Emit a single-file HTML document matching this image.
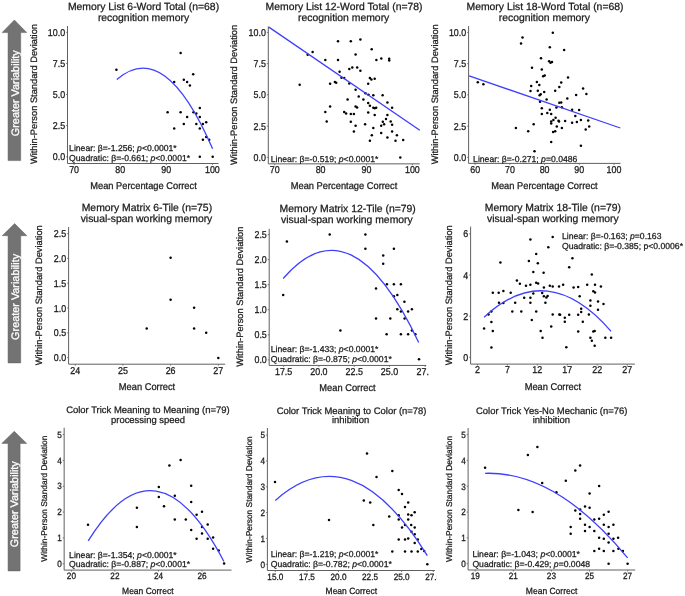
<!DOCTYPE html>
<html><head><meta charset="utf-8"><style>
html,body{margin:0;padding:0;background:#fff;}
body{width:685px;height:596px;overflow:hidden;}
svg{display:block;font-family:"Liberation Sans", sans-serif;will-change:transform;text-rendering:geometricPrecision;filter:blur(0.3px);}
text{stroke:#1a1a1a;stroke-width:0.25;}
text.w{stroke:#fff;stroke-width:0.3px;}
</style></head><body>
<svg width="685" height="596" viewBox="0 0 685 596">
<defs><clipPath id="c5"><rect x="225" y="360" width="204.1" height="40"/></clipPath><clipPath id="c8"><rect x="225" y="565" width="211.9" height="40"/></clipPath></defs>
<path d="M14.4,20.0 L26.7,32.6 L20.7,32.6 L20.7,160.6 L8.05,160.6 L8.05,32.6 L2.1,32.6 Z" fill="#737373" stroke="#5e5e5e" stroke-width="0.5" stroke-linejoin="miter"/>
<text transform="translate(18.5,93.20) rotate(-90)" class="w" font-size="10.85" text-anchor="middle" fill="#fff" font-weight="normal">Greater Variability</text>
<path d="M14.6,223.6 L26.9,235.7 L20.7,235.7 L20.7,362.9 L8.05,362.9 L8.05,235.7 L2.25,235.7 Z" fill="#737373" stroke="#5e5e5e" stroke-width="0.5" stroke-linejoin="miter"/>
<text transform="translate(18.5,296.90) rotate(-90)" class="w" font-size="10.85" text-anchor="middle" fill="#fff" font-weight="normal">Greater Variability</text>
<path d="M14.25,431.3 L26.7,443.4 L20.1,443.4 L20.1,570.9 L8.05,570.9 L8.05,443.4 L1.8,443.4 Z" fill="#737373" stroke="#5e5e5e" stroke-width="0.5" stroke-linejoin="miter"/>
<text transform="translate(18.1,504.20) rotate(-90)" class="w" font-size="10.85" text-anchor="middle" fill="#fff" font-weight="normal">Greater Variability</text>
<text x="143.50" y="9.70" font-size="10.4" text-anchor="middle" fill="#1a1a1a" >Memory List 6-Word Total (n=68)</text>
<text x="143.50" y="20.50" font-size="10.4" text-anchor="middle" fill="#1a1a1a" >recognition memory</text>
<text transform="translate(36.82,94.05) rotate(-90)" font-size="9.3" text-anchor="middle" fill="#1a1a1a">Within-Person Standard Deviation</text>
<text transform="translate(143.50,188.90) scale(1,1.06)" font-size="9.3" text-anchor="middle" fill="#1a1a1a" >Mean Percentage Correct</text>
<line x1="66.00" y1="32.30" x2="67.50" y2="32.30" stroke="#606060" stroke-width="0.8"/>
<text transform="translate(65.10,35.84) scale(1,1.12)" font-size="8.9" text-anchor="end" fill="#1a1a1a" >10.0</text>
<line x1="66.00" y1="63.42" x2="67.50" y2="63.42" stroke="#606060" stroke-width="0.8"/>
<text transform="translate(65.10,66.96) scale(1,1.12)" font-size="8.9" text-anchor="end" fill="#1a1a1a" >7.5</text>
<line x1="66.00" y1="94.55" x2="67.50" y2="94.55" stroke="#606060" stroke-width="0.8"/>
<text transform="translate(65.10,98.09) scale(1,1.12)" font-size="8.9" text-anchor="end" fill="#1a1a1a" >5.0</text>
<line x1="66.00" y1="125.68" x2="67.50" y2="125.68" stroke="#606060" stroke-width="0.8"/>
<text transform="translate(65.10,129.21) scale(1,1.12)" font-size="8.9" text-anchor="end" fill="#1a1a1a" >2.5</text>
<line x1="66.00" y1="156.80" x2="67.50" y2="156.80" stroke="#606060" stroke-width="0.8"/>
<text transform="translate(65.10,160.34) scale(1,1.12)" font-size="8.9" text-anchor="end" fill="#1a1a1a" >0.0</text>
<line x1="74.10" y1="163.50" x2="74.10" y2="165.00" stroke="#606060" stroke-width="0.8"/>
<text transform="translate(74.10,172.82) scale(1,1.12)" font-size="8.9" text-anchor="middle" fill="#1a1a1a" >70</text>
<line x1="120.20" y1="163.50" x2="120.20" y2="165.00" stroke="#606060" stroke-width="0.8"/>
<text transform="translate(120.20,172.82) scale(1,1.12)" font-size="8.9" text-anchor="middle" fill="#1a1a1a" >80</text>
<line x1="166.30" y1="163.50" x2="166.30" y2="165.00" stroke="#606060" stroke-width="0.8"/>
<text transform="translate(166.30,172.82) scale(1,1.12)" font-size="8.9" text-anchor="middle" fill="#1a1a1a" >90</text>
<line x1="212.40" y1="163.50" x2="212.40" y2="165.00" stroke="#606060" stroke-width="0.8"/>
<text transform="translate(212.40,172.82) scale(1,1.12)" font-size="8.9" text-anchor="middle" fill="#1a1a1a" >100</text>
<path d="M67.50,26.00 L67.50,163.50 L218.50,163.50" fill="none" stroke="#606060" stroke-width="1.0"/>
<circle cx="116.4" cy="69.7" r="1.25" fill="#000"/>
<circle cx="180.6" cy="53.0" r="1.25" fill="#000"/>
<circle cx="193.2" cy="74.2" r="1.25" fill="#000"/>
<circle cx="174.2" cy="82.1" r="1.25" fill="#000"/>
<circle cx="183.8" cy="79.8" r="1.25" fill="#000"/>
<circle cx="187.1" cy="82.1" r="1.25" fill="#000"/>
<circle cx="189.9" cy="85.4" r="1.25" fill="#000"/>
<circle cx="167.6" cy="112.2" r="1.25" fill="#000"/>
<circle cx="180.6" cy="112.2" r="1.25" fill="#000"/>
<circle cx="193.5" cy="112.2" r="1.25" fill="#000"/>
<circle cx="196.3" cy="113.4" r="1.25" fill="#000"/>
<circle cx="199.8" cy="108.0" r="1.25" fill="#000"/>
<circle cx="199.8" cy="116.9" r="1.25" fill="#000"/>
<circle cx="187.1" cy="116.9" r="1.25" fill="#000"/>
<circle cx="183.8" cy="123.9" r="1.25" fill="#000"/>
<circle cx="196.3" cy="123.9" r="1.25" fill="#000"/>
<circle cx="202.9" cy="123.9" r="1.25" fill="#000"/>
<circle cx="206.2" cy="122.3" r="1.25" fill="#000"/>
<circle cx="174.2" cy="128.6" r="1.25" fill="#000"/>
<circle cx="199.8" cy="128.6" r="1.25" fill="#000"/>
<circle cx="202.9" cy="139.7" r="1.25" fill="#000"/>
<circle cx="206.2" cy="136.9" r="1.25" fill="#000"/>
<circle cx="209.2" cy="139.7" r="1.25" fill="#000"/>
<circle cx="199.8" cy="156.8" r="1.25" fill="#000"/>
<circle cx="212.7" cy="156.8" r="1.25" fill="#000"/>
<path d="M116.80,79.50 Q164.70,37.65 212.60,148.81" fill="none" stroke="#3f3fff" stroke-width="1.3"/>
<text x="69.10" y="151.10" font-size="8.65" fill="#1a1a1a">Linear: β=-1.256; <tspan font-style="italic">p</tspan>&lt;0.0001*</text>
<text x="69.10" y="160.60" font-size="8.65" fill="#1a1a1a">Quadratic: β=-0.661; <tspan font-style="italic">p</tspan>&lt;0.0001*</text>
<text x="344.10" y="10.00" font-size="10.4" text-anchor="middle" fill="#1a1a1a" >Memory List 12-Word Total (n=78)</text>
<text x="343.70" y="21.00" font-size="10.4" text-anchor="middle" fill="#1a1a1a" >recognition memory</text>
<text transform="translate(236.62,94.90) rotate(-90)" font-size="9.3" text-anchor="middle" fill="#1a1a1a">Within-Person Standard Deviation</text>
<text transform="translate(344.00,189.40) scale(1,1.06)" font-size="9.3" text-anchor="middle" fill="#1a1a1a" >Mean Percentage Correct</text>
<line x1="266.80" y1="32.40" x2="268.30" y2="32.40" stroke="#606060" stroke-width="0.8"/>
<text transform="translate(265.90,35.94) scale(1,1.12)" font-size="8.9" text-anchor="end" fill="#1a1a1a" >10.0</text>
<line x1="266.80" y1="63.62" x2="268.30" y2="63.62" stroke="#606060" stroke-width="0.8"/>
<text transform="translate(265.90,67.16) scale(1,1.12)" font-size="8.9" text-anchor="end" fill="#1a1a1a" >7.5</text>
<line x1="266.80" y1="94.85" x2="268.30" y2="94.85" stroke="#606060" stroke-width="0.8"/>
<text transform="translate(265.90,98.39) scale(1,1.12)" font-size="8.9" text-anchor="end" fill="#1a1a1a" >5.0</text>
<line x1="266.80" y1="126.08" x2="268.30" y2="126.08" stroke="#606060" stroke-width="0.8"/>
<text transform="translate(265.90,129.61) scale(1,1.12)" font-size="8.9" text-anchor="end" fill="#1a1a1a" >2.5</text>
<line x1="266.80" y1="157.30" x2="268.30" y2="157.30" stroke="#606060" stroke-width="0.8"/>
<text transform="translate(265.90,160.84) scale(1,1.12)" font-size="8.9" text-anchor="end" fill="#1a1a1a" >0.0</text>
<line x1="274.70" y1="163.85" x2="274.70" y2="165.35" stroke="#606060" stroke-width="0.8"/>
<text transform="translate(274.70,173.17) scale(1,1.12)" font-size="8.9" text-anchor="middle" fill="#1a1a1a" >70</text>
<line x1="320.60" y1="163.85" x2="320.60" y2="165.35" stroke="#606060" stroke-width="0.8"/>
<text transform="translate(320.60,173.17) scale(1,1.12)" font-size="8.9" text-anchor="middle" fill="#1a1a1a" >80</text>
<line x1="366.50" y1="163.85" x2="366.50" y2="165.35" stroke="#606060" stroke-width="0.8"/>
<text transform="translate(366.50,173.17) scale(1,1.12)" font-size="8.9" text-anchor="middle" fill="#1a1a1a" >90</text>
<line x1="412.40" y1="163.85" x2="412.40" y2="165.35" stroke="#606060" stroke-width="0.8"/>
<text transform="translate(412.40,173.17) scale(1,1.12)" font-size="8.9" text-anchor="middle" fill="#1a1a1a" >100</text>
<path d="M268.30,26.60 L268.30,163.85 L419.80,163.85" fill="none" stroke="#606060" stroke-width="1.0"/>
<circle cx="299.7" cy="84.7" r="1.25" fill="#000"/>
<circle cx="307.7" cy="54.7" r="1.25" fill="#000"/>
<circle cx="312.6" cy="52.1" r="1.25" fill="#000"/>
<circle cx="325.3" cy="59.9" r="1.25" fill="#000"/>
<circle cx="330.1" cy="83.8" r="1.25" fill="#000"/>
<circle cx="334.9" cy="82.0" r="1.25" fill="#000"/>
<circle cx="336.2" cy="82.8" r="1.25" fill="#000"/>
<circle cx="338.0" cy="41.3" r="1.25" fill="#000"/>
<circle cx="338.0" cy="59.9" r="1.25" fill="#000"/>
<circle cx="339.6" cy="71.8" r="1.25" fill="#000"/>
<circle cx="341.5" cy="77.7" r="1.25" fill="#000"/>
<circle cx="344.2" cy="78.1" r="1.25" fill="#000"/>
<circle cx="349.3" cy="68.9" r="1.25" fill="#000"/>
<circle cx="349.3" cy="83.5" r="1.25" fill="#000"/>
<circle cx="350.8" cy="41.3" r="1.25" fill="#000"/>
<circle cx="352.3" cy="67.4" r="1.25" fill="#000"/>
<circle cx="355.6" cy="54.6" r="1.25" fill="#000"/>
<circle cx="355.6" cy="89.8" r="1.25" fill="#000"/>
<circle cx="357.2" cy="67.4" r="1.25" fill="#000"/>
<circle cx="360.4" cy="39.4" r="1.25" fill="#000"/>
<circle cx="347.6" cy="99.6" r="1.25" fill="#000"/>
<circle cx="358.7" cy="96.4" r="1.25" fill="#000"/>
<circle cx="360.4" cy="70.8" r="1.25" fill="#000"/>
<circle cx="371.7" cy="49.2" r="1.25" fill="#000"/>
<circle cx="376.4" cy="59.9" r="1.25" fill="#000"/>
<circle cx="381.3" cy="58.4" r="1.25" fill="#000"/>
<circle cx="389.2" cy="58.7" r="1.25" fill="#000"/>
<circle cx="389.2" cy="60.6" r="1.25" fill="#000"/>
<circle cx="369.9" cy="78.1" r="1.25" fill="#000"/>
<circle cx="371.4" cy="79.6" r="1.25" fill="#000"/>
<circle cx="374.7" cy="78.7" r="1.25" fill="#000"/>
<circle cx="368.2" cy="83.8" r="1.25" fill="#000"/>
<circle cx="365.5" cy="93.3" r="1.25" fill="#000"/>
<circle cx="368.5" cy="94.7" r="1.25" fill="#000"/>
<circle cx="373.3" cy="95.2" r="1.25" fill="#000"/>
<circle cx="382.6" cy="95.2" r="1.25" fill="#000"/>
<circle cx="363.4" cy="99.6" r="1.25" fill="#000"/>
<circle cx="330.1" cy="106.5" r="1.25" fill="#000"/>
<circle cx="325.3" cy="111.9" r="1.25" fill="#000"/>
<circle cx="326.7" cy="121.4" r="1.25" fill="#000"/>
<circle cx="344.2" cy="111.9" r="1.25" fill="#000"/>
<circle cx="346.1" cy="113.6" r="1.25" fill="#000"/>
<circle cx="350.8" cy="114.1" r="1.25" fill="#000"/>
<circle cx="353.9" cy="114.1" r="1.25" fill="#000"/>
<circle cx="350.8" cy="121.8" r="1.25" fill="#000"/>
<circle cx="355.6" cy="125.8" r="1.25" fill="#000"/>
<circle cx="353.9" cy="131.6" r="1.25" fill="#000"/>
<circle cx="355.6" cy="106.5" r="1.25" fill="#000"/>
<circle cx="357.1" cy="107.5" r="1.25" fill="#000"/>
<circle cx="368.2" cy="103.1" r="1.25" fill="#000"/>
<circle cx="369.9" cy="105.8" r="1.25" fill="#000"/>
<circle cx="373.3" cy="107.8" r="1.25" fill="#000"/>
<circle cx="374.7" cy="108.2" r="1.25" fill="#000"/>
<circle cx="376.2" cy="107.8" r="1.25" fill="#000"/>
<circle cx="387.4" cy="102.4" r="1.25" fill="#000"/>
<circle cx="392.1" cy="107.8" r="1.25" fill="#000"/>
<circle cx="368.2" cy="112.6" r="1.25" fill="#000"/>
<circle cx="374.7" cy="115.1" r="1.25" fill="#000"/>
<circle cx="387.4" cy="115.1" r="1.25" fill="#000"/>
<circle cx="365.1" cy="124.3" r="1.25" fill="#000"/>
<circle cx="382.8" cy="121.8" r="1.25" fill="#000"/>
<circle cx="386.0" cy="118.9" r="1.25" fill="#000"/>
<circle cx="384.1" cy="124.3" r="1.25" fill="#000"/>
<circle cx="381.2" cy="125.8" r="1.25" fill="#000"/>
<circle cx="390.7" cy="121.4" r="1.25" fill="#000"/>
<circle cx="392.1" cy="124.7" r="1.25" fill="#000"/>
<circle cx="373.3" cy="128.0" r="1.25" fill="#000"/>
<circle cx="381.2" cy="133.1" r="1.25" fill="#000"/>
<circle cx="392.1" cy="131.6" r="1.25" fill="#000"/>
<circle cx="371.8" cy="135.3" r="1.25" fill="#000"/>
<circle cx="396.9" cy="135.3" r="1.25" fill="#000"/>
<circle cx="387.4" cy="137.4" r="1.25" fill="#000"/>
<circle cx="369.9" cy="140.8" r="1.25" fill="#000"/>
<circle cx="395.5" cy="140.8" r="1.25" fill="#000"/>
<circle cx="403.2" cy="140.1" r="1.25" fill="#000"/>
<circle cx="400.3" cy="157.6" r="1.25" fill="#000"/>
<line x1="268.5" y1="26.9" x2="419.8" y2="130.2" stroke="#3f3fff" stroke-width="1.3"/>
<text x="270.80" y="161.70" font-size="8.65" fill="#1a1a1a">Linear: β=-0.519; <tspan font-style="italic">p</tspan>&lt;0.0001*</text>
<text x="545.00" y="10.00" font-size="10.4" text-anchor="middle" fill="#1a1a1a" >Memory List 18-Word Total (n=68)</text>
<text x="544.40" y="21.00" font-size="10.4" text-anchor="middle" fill="#1a1a1a" >recognition memory</text>
<text transform="translate(437.52,94.30) rotate(-90)" font-size="9.3" text-anchor="middle" fill="#1a1a1a">Within-Person Standard Deviation</text>
<text transform="translate(544.40,189.10) scale(1,1.06)" font-size="9.3" text-anchor="middle" fill="#1a1a1a" >Mean Percentage Correct</text>
<line x1="467.10" y1="32.40" x2="468.60" y2="32.40" stroke="#606060" stroke-width="0.8"/>
<text transform="translate(466.20,35.94) scale(1,1.12)" font-size="8.9" text-anchor="end" fill="#1a1a1a" >10.0</text>
<line x1="467.10" y1="63.65" x2="468.60" y2="63.65" stroke="#606060" stroke-width="0.8"/>
<text transform="translate(466.20,67.19) scale(1,1.12)" font-size="8.9" text-anchor="end" fill="#1a1a1a" >7.5</text>
<line x1="467.10" y1="94.90" x2="468.60" y2="94.90" stroke="#606060" stroke-width="0.8"/>
<text transform="translate(466.20,98.44) scale(1,1.12)" font-size="8.9" text-anchor="end" fill="#1a1a1a" >5.0</text>
<line x1="467.10" y1="126.15" x2="468.60" y2="126.15" stroke="#606060" stroke-width="0.8"/>
<text transform="translate(466.20,129.69) scale(1,1.12)" font-size="8.9" text-anchor="end" fill="#1a1a1a" >2.5</text>
<line x1="467.10" y1="157.40" x2="468.60" y2="157.40" stroke="#606060" stroke-width="0.8"/>
<text transform="translate(466.20,160.94) scale(1,1.12)" font-size="8.9" text-anchor="end" fill="#1a1a1a" >0.0</text>
<line x1="475.20" y1="163.40" x2="475.20" y2="164.90" stroke="#606060" stroke-width="0.8"/>
<text transform="translate(475.20,172.72) scale(1,1.12)" font-size="8.9" text-anchor="middle" fill="#1a1a1a" >60</text>
<line x1="509.90" y1="163.40" x2="509.90" y2="164.90" stroke="#606060" stroke-width="0.8"/>
<text transform="translate(509.90,172.72) scale(1,1.12)" font-size="8.9" text-anchor="middle" fill="#1a1a1a" >70</text>
<line x1="544.60" y1="163.40" x2="544.60" y2="164.90" stroke="#606060" stroke-width="0.8"/>
<text transform="translate(544.60,172.72) scale(1,1.12)" font-size="8.9" text-anchor="middle" fill="#1a1a1a" >80</text>
<line x1="579.30" y1="163.40" x2="579.30" y2="164.90" stroke="#606060" stroke-width="0.8"/>
<text transform="translate(579.30,172.72) scale(1,1.12)" font-size="8.9" text-anchor="middle" fill="#1a1a1a" >90</text>
<line x1="614.00" y1="163.40" x2="614.00" y2="164.90" stroke="#606060" stroke-width="0.8"/>
<text transform="translate(614.00,172.72) scale(1,1.12)" font-size="8.9" text-anchor="middle" fill="#1a1a1a" >100</text>
<path d="M468.60,26.00 L468.60,163.40 L620.50,163.40" fill="none" stroke="#606060" stroke-width="1.0"/>
<circle cx="477.8" cy="82.3" r="1.25" fill="#000"/>
<circle cx="483.4" cy="84.2" r="1.25" fill="#000"/>
<circle cx="521.0" cy="43.4" r="1.25" fill="#000"/>
<circle cx="522.5" cy="37.5" r="1.25" fill="#000"/>
<circle cx="532.0" cy="67.7" r="1.25" fill="#000"/>
<circle cx="531.2" cy="86.0" r="1.25" fill="#000"/>
<circle cx="530.5" cy="91.1" r="1.25" fill="#000"/>
<circle cx="536.9" cy="82.0" r="1.25" fill="#000"/>
<circle cx="539.3" cy="85.0" r="1.25" fill="#000"/>
<circle cx="537.8" cy="90.8" r="1.25" fill="#000"/>
<circle cx="539.6" cy="95.2" r="1.25" fill="#000"/>
<circle cx="540.7" cy="94.2" r="1.25" fill="#000"/>
<circle cx="541.0" cy="58.2" r="1.25" fill="#000"/>
<circle cx="541.8" cy="69.6" r="1.25" fill="#000"/>
<circle cx="543.2" cy="76.2" r="1.25" fill="#000"/>
<circle cx="544.7" cy="75.5" r="1.25" fill="#000"/>
<circle cx="544.2" cy="92.0" r="1.25" fill="#000"/>
<circle cx="546.6" cy="99.6" r="1.25" fill="#000"/>
<circle cx="549.8" cy="47.3" r="1.25" fill="#000"/>
<circle cx="549.1" cy="61.3" r="1.25" fill="#000"/>
<circle cx="550.5" cy="62.8" r="1.25" fill="#000"/>
<circle cx="552.0" cy="62.0" r="1.25" fill="#000"/>
<circle cx="552.8" cy="32.8" r="1.25" fill="#000"/>
<circle cx="555.2" cy="90.8" r="1.25" fill="#000"/>
<circle cx="559.3" cy="86.9" r="1.25" fill="#000"/>
<circle cx="564.1" cy="49.9" r="1.25" fill="#000"/>
<circle cx="568.0" cy="77.4" r="1.25" fill="#000"/>
<circle cx="561.2" cy="82.5" r="1.25" fill="#000"/>
<circle cx="583.1" cy="88.6" r="1.25" fill="#000"/>
<circle cx="586.4" cy="94.0" r="1.25" fill="#000"/>
<circle cx="576.1" cy="94.9" r="1.25" fill="#000"/>
<circle cx="567.3" cy="98.4" r="1.25" fill="#000"/>
<circle cx="515.9" cy="128.0" r="1.25" fill="#000"/>
<circle cx="528.2" cy="131.3" r="1.25" fill="#000"/>
<circle cx="533.7" cy="124.3" r="1.25" fill="#000"/>
<circle cx="534.5" cy="151.3" r="1.25" fill="#000"/>
<circle cx="540.0" cy="101.7" r="1.25" fill="#000"/>
<circle cx="541.8" cy="108.2" r="1.25" fill="#000"/>
<circle cx="541.8" cy="114.1" r="1.25" fill="#000"/>
<circle cx="547.3" cy="113.1" r="1.25" fill="#000"/>
<circle cx="549.8" cy="109.7" r="1.25" fill="#000"/>
<circle cx="551.2" cy="114.1" r="1.25" fill="#000"/>
<circle cx="551.2" cy="121.4" r="1.25" fill="#000"/>
<circle cx="551.2" cy="123.6" r="1.25" fill="#000"/>
<circle cx="553.4" cy="119.9" r="1.25" fill="#000"/>
<circle cx="555.6" cy="117.7" r="1.25" fill="#000"/>
<circle cx="556.4" cy="107.5" r="1.25" fill="#000"/>
<circle cx="558.5" cy="120.7" r="1.25" fill="#000"/>
<circle cx="556.8" cy="126.5" r="1.25" fill="#000"/>
<circle cx="553.1" cy="132.0" r="1.25" fill="#000"/>
<circle cx="555.2" cy="131.3" r="1.25" fill="#000"/>
<circle cx="551.2" cy="142.1" r="1.25" fill="#000"/>
<circle cx="559.3" cy="102.8" r="1.25" fill="#000"/>
<circle cx="561.2" cy="102.4" r="1.25" fill="#000"/>
<circle cx="561.9" cy="107.2" r="1.25" fill="#000"/>
<circle cx="572.1" cy="109.7" r="1.25" fill="#000"/>
<circle cx="579.1" cy="110.1" r="1.25" fill="#000"/>
<circle cx="575.3" cy="116.0" r="1.25" fill="#000"/>
<circle cx="559.0" cy="121.4" r="1.25" fill="#000"/>
<circle cx="565.1" cy="121.1" r="1.25" fill="#000"/>
<circle cx="572.1" cy="122.8" r="1.25" fill="#000"/>
<circle cx="576.9" cy="122.1" r="1.25" fill="#000"/>
<circle cx="580.9" cy="119.9" r="1.25" fill="#000"/>
<circle cx="588.2" cy="120.4" r="1.25" fill="#000"/>
<circle cx="561.9" cy="128.0" r="1.25" fill="#000"/>
<circle cx="589.2" cy="126.5" r="1.25" fill="#000"/>
<circle cx="585.7" cy="129.4" r="1.25" fill="#000"/>
<circle cx="580.9" cy="145.8" r="1.25" fill="#000"/>
<line x1="469.1" y1="75.9" x2="620.3" y2="128.0" stroke="#3f3fff" stroke-width="1.3"/>
<text x="473.10" y="161.70" font-size="8.65" fill="#1a1a1a">Linear: β=-0.271; <tspan font-style="italic">p</tspan>=0.0486</text>
<text x="146.90" y="211.00" font-size="10.4" text-anchor="middle" fill="#1a1a1a" >Memory Matrix 6-Tile (n=75)</text>
<text x="146.50" y="222.00" font-size="10.4" text-anchor="middle" fill="#1a1a1a" >visual-span working memory</text>
<text transform="translate(42.02,295.30) rotate(-90)" font-size="9.3" text-anchor="middle" fill="#1a1a1a">Within-Person Standard Deviation</text>
<text transform="translate(147.00,389.60) scale(1,1.06)" font-size="9.3" text-anchor="middle" fill="#1a1a1a" >Mean Correct</text>
<line x1="67.10" y1="233.60" x2="68.60" y2="233.60" stroke="#606060" stroke-width="0.8"/>
<text transform="translate(66.20,237.14) scale(1,1.12)" font-size="8.9" text-anchor="end" fill="#1a1a1a" >2.5</text>
<line x1="67.10" y1="258.40" x2="68.60" y2="258.40" stroke="#606060" stroke-width="0.8"/>
<text transform="translate(66.20,261.94) scale(1,1.12)" font-size="8.9" text-anchor="end" fill="#1a1a1a" >2.0</text>
<line x1="67.10" y1="283.20" x2="68.60" y2="283.20" stroke="#606060" stroke-width="0.8"/>
<text transform="translate(66.20,286.74) scale(1,1.12)" font-size="8.9" text-anchor="end" fill="#1a1a1a" >1.5</text>
<line x1="67.10" y1="308.00" x2="68.60" y2="308.00" stroke="#606060" stroke-width="0.8"/>
<text transform="translate(66.20,311.54) scale(1,1.12)" font-size="8.9" text-anchor="end" fill="#1a1a1a" >1.0</text>
<line x1="67.10" y1="332.80" x2="68.60" y2="332.80" stroke="#606060" stroke-width="0.8"/>
<text transform="translate(66.20,336.34) scale(1,1.12)" font-size="8.9" text-anchor="end" fill="#1a1a1a" >0.5</text>
<line x1="67.10" y1="357.60" x2="68.60" y2="357.60" stroke="#606060" stroke-width="0.8"/>
<text transform="translate(66.20,361.14) scale(1,1.12)" font-size="8.9" text-anchor="end" fill="#1a1a1a" >0.0</text>
<line x1="75.30" y1="364.20" x2="75.30" y2="365.70" stroke="#606060" stroke-width="0.8"/>
<text transform="translate(75.30,373.52) scale(1,1.12)" font-size="8.9" text-anchor="middle" fill="#1a1a1a" >24</text>
<line x1="122.90" y1="364.20" x2="122.90" y2="365.70" stroke="#606060" stroke-width="0.8"/>
<text transform="translate(122.90,373.52) scale(1,1.12)" font-size="8.9" text-anchor="middle" fill="#1a1a1a" >25</text>
<line x1="170.60" y1="364.20" x2="170.60" y2="365.70" stroke="#606060" stroke-width="0.8"/>
<text transform="translate(170.60,373.52) scale(1,1.12)" font-size="8.9" text-anchor="middle" fill="#1a1a1a" >26</text>
<line x1="218.30" y1="364.20" x2="218.30" y2="365.70" stroke="#606060" stroke-width="0.8"/>
<text transform="translate(218.30,373.52) scale(1,1.12)" font-size="8.9" text-anchor="middle" fill="#1a1a1a" >27</text>
<path d="M68.60,227.00 L68.60,364.20 L225.20,364.20" fill="none" stroke="#606060" stroke-width="1.0"/>
<circle cx="170.6" cy="257.8" r="1.25" fill="#000"/>
<circle cx="170.6" cy="299.8" r="1.25" fill="#000"/>
<circle cx="194.1" cy="307.8" r="1.25" fill="#000"/>
<circle cx="146.7" cy="328.6" r="1.25" fill="#000"/>
<circle cx="194.1" cy="328.6" r="1.25" fill="#000"/>
<circle cx="206.2" cy="332.7" r="1.25" fill="#000"/>
<circle cx="218.3" cy="357.9" r="1.25" fill="#000"/>
<text x="347.70" y="212.10" font-size="10.4" text-anchor="middle" fill="#1a1a1a" >Memory Matrix 12-Tile (n=79)</text>
<text x="346.90" y="223.10" font-size="10.4" text-anchor="middle" fill="#1a1a1a" >visual-span working memory</text>
<text transform="translate(242.92,296.70) rotate(-90)" font-size="9.3" text-anchor="middle" fill="#1a1a1a">Within-Person Standard Deviation</text>
<text transform="translate(347.50,390.80) scale(1,1.06)" font-size="9.3" text-anchor="middle" fill="#1a1a1a" >Mean Correct</text>
<line x1="267.70" y1="234.60" x2="269.20" y2="234.60" stroke="#606060" stroke-width="0.8"/>
<text transform="translate(266.80,238.14) scale(1,1.12)" font-size="8.9" text-anchor="end" fill="#1a1a1a" >2.5</text>
<line x1="267.70" y1="259.66" x2="269.20" y2="259.66" stroke="#606060" stroke-width="0.8"/>
<text transform="translate(266.80,263.20) scale(1,1.12)" font-size="8.9" text-anchor="end" fill="#1a1a1a" >2.0</text>
<line x1="267.70" y1="284.72" x2="269.20" y2="284.72" stroke="#606060" stroke-width="0.8"/>
<text transform="translate(266.80,288.26) scale(1,1.12)" font-size="8.9" text-anchor="end" fill="#1a1a1a" >1.5</text>
<line x1="267.70" y1="309.78" x2="269.20" y2="309.78" stroke="#606060" stroke-width="0.8"/>
<text transform="translate(266.80,313.32) scale(1,1.12)" font-size="8.9" text-anchor="end" fill="#1a1a1a" >1.0</text>
<line x1="267.70" y1="334.84" x2="269.20" y2="334.84" stroke="#606060" stroke-width="0.8"/>
<text transform="translate(266.80,338.38) scale(1,1.12)" font-size="8.9" text-anchor="end" fill="#1a1a1a" >0.5</text>
<line x1="267.70" y1="359.90" x2="269.20" y2="359.90" stroke="#606060" stroke-width="0.8"/>
<text transform="translate(266.80,363.44) scale(1,1.12)" font-size="8.9" text-anchor="end" fill="#1a1a1a" >0.0</text>
<line x1="283.60" y1="365.45" x2="283.60" y2="366.95" stroke="#606060" stroke-width="0.8"/>
<g clip-path="url(#c5)">
<text transform="translate(283.60,374.77) scale(1,1.12)" font-size="8.9" text-anchor="middle" fill="#1a1a1a" >17.5</text>
</g>
<line x1="318.90" y1="365.45" x2="318.90" y2="366.95" stroke="#606060" stroke-width="0.8"/>
<g clip-path="url(#c5)">
<text transform="translate(318.90,374.77) scale(1,1.12)" font-size="8.9" text-anchor="middle" fill="#1a1a1a" >20.0</text>
</g>
<line x1="354.20" y1="365.45" x2="354.20" y2="366.95" stroke="#606060" stroke-width="0.8"/>
<g clip-path="url(#c5)">
<text transform="translate(354.20,374.77) scale(1,1.12)" font-size="8.9" text-anchor="middle" fill="#1a1a1a" >22.5</text>
</g>
<line x1="389.50" y1="365.45" x2="389.50" y2="366.95" stroke="#606060" stroke-width="0.8"/>
<g clip-path="url(#c5)">
<text transform="translate(389.50,374.77) scale(1,1.12)" font-size="8.9" text-anchor="middle" fill="#1a1a1a" >25.0</text>
</g>
<line x1="425.20" y1="365.45" x2="425.20" y2="366.95" stroke="#606060" stroke-width="0.8"/>
<g clip-path="url(#c5)">
<text transform="translate(425.20,374.77) scale(1,1.12)" font-size="8.9" text-anchor="middle" fill="#1a1a1a" >27.5</text>
</g>
<path d="M269.20,228.80 L269.20,365.45 L426.30,365.45" fill="none" stroke="#606060" stroke-width="1.0"/>
<circle cx="286.9" cy="241.5" r="1.25" fill="#000"/>
<circle cx="329.7" cy="234.6" r="1.25" fill="#000"/>
<circle cx="283.2" cy="294.9" r="1.25" fill="#000"/>
<circle cx="365.4" cy="234.6" r="1.25" fill="#000"/>
<circle cx="365.4" cy="248.8" r="1.25" fill="#000"/>
<circle cx="393.9" cy="248.8" r="1.25" fill="#000"/>
<circle cx="383.2" cy="255.5" r="1.25" fill="#000"/>
<circle cx="383.2" cy="263.8" r="1.25" fill="#000"/>
<circle cx="376.0" cy="288.6" r="1.25" fill="#000"/>
<circle cx="386.9" cy="284.2" r="1.25" fill="#000"/>
<circle cx="393.9" cy="284.2" r="1.25" fill="#000"/>
<circle cx="400.9" cy="284.2" r="1.25" fill="#000"/>
<circle cx="393.9" cy="296.2" r="1.25" fill="#000"/>
<circle cx="397.3" cy="294.9" r="1.25" fill="#000"/>
<circle cx="404.4" cy="301.7" r="1.25" fill="#000"/>
<circle cx="397.3" cy="309.3" r="1.25" fill="#000"/>
<circle cx="400.9" cy="311.5" r="1.25" fill="#000"/>
<circle cx="408.1" cy="311.5" r="1.25" fill="#000"/>
<circle cx="411.9" cy="309.3" r="1.25" fill="#000"/>
<circle cx="376.0" cy="318.5" r="1.25" fill="#000"/>
<circle cx="390.3" cy="318.5" r="1.25" fill="#000"/>
<circle cx="404.6" cy="318.5" r="1.25" fill="#000"/>
<circle cx="386.6" cy="334.2" r="1.25" fill="#000"/>
<circle cx="400.9" cy="334.2" r="1.25" fill="#000"/>
<circle cx="408.1" cy="334.2" r="1.25" fill="#000"/>
<circle cx="411.9" cy="330.6" r="1.25" fill="#000"/>
<circle cx="415.4" cy="334.2" r="1.25" fill="#000"/>
<circle cx="419.0" cy="359.3" r="1.25" fill="#000"/>
<circle cx="340.4" cy="330.5" r="1.25" fill="#000"/>
<path d="M283.20,278.46 Q350.95,199.44 418.70,342.44" fill="none" stroke="#3f3fff" stroke-width="1.3"/>
<text x="270.80" y="352.40" font-size="8.65" fill="#1a1a1a">Linear: β=-1.433; <tspan font-style="italic">p</tspan>&lt;0.0001*</text>
<text x="270.80" y="361.60" font-size="8.65" fill="#1a1a1a">Quadratic: β=-0.875; <tspan font-style="italic">p</tspan>&lt;0.0001*</text>
<text x="552.90" y="211.00" font-size="10.4" text-anchor="middle" fill="#1a1a1a" >Memory Matrix 18-Tile (n=79)</text>
<text x="552.90" y="222.00" font-size="10.4" text-anchor="middle" fill="#1a1a1a" >visual-span working memory</text>
<text transform="translate(451.62,295.30) rotate(-90)" font-size="9.3" text-anchor="middle" fill="#1a1a1a">Within-Person Standard Deviation</text>
<text transform="translate(552.80,389.90) scale(1,1.06)" font-size="9.3" text-anchor="middle" fill="#1a1a1a" >Mean Correct</text>
<line x1="469.10" y1="233.90" x2="470.60" y2="233.90" stroke="#606060" stroke-width="0.8"/>
<text transform="translate(468.20,237.44) scale(1,1.12)" font-size="8.9" text-anchor="end" fill="#1a1a1a" >6</text>
<line x1="469.10" y1="275.03" x2="470.60" y2="275.03" stroke="#606060" stroke-width="0.8"/>
<text transform="translate(468.20,278.57) scale(1,1.12)" font-size="8.9" text-anchor="end" fill="#1a1a1a" >4</text>
<line x1="469.10" y1="316.17" x2="470.60" y2="316.17" stroke="#606060" stroke-width="0.8"/>
<text transform="translate(468.20,319.71) scale(1,1.12)" font-size="8.9" text-anchor="end" fill="#1a1a1a" >2</text>
<line x1="469.10" y1="357.30" x2="470.60" y2="357.30" stroke="#606060" stroke-width="0.8"/>
<text transform="translate(468.20,360.84) scale(1,1.12)" font-size="8.9" text-anchor="end" fill="#1a1a1a" >0</text>
<line x1="477.40" y1="364.10" x2="477.40" y2="365.60" stroke="#606060" stroke-width="0.8"/>
<text transform="translate(477.40,373.42) scale(1,1.12)" font-size="8.9" text-anchor="middle" fill="#1a1a1a" >2</text>
<line x1="507.40" y1="364.10" x2="507.40" y2="365.60" stroke="#606060" stroke-width="0.8"/>
<text transform="translate(507.40,373.42) scale(1,1.12)" font-size="8.9" text-anchor="middle" fill="#1a1a1a" >7</text>
<line x1="537.30" y1="364.10" x2="537.30" y2="365.60" stroke="#606060" stroke-width="0.8"/>
<text transform="translate(537.30,373.42) scale(1,1.12)" font-size="8.9" text-anchor="middle" fill="#1a1a1a" >12</text>
<line x1="567.30" y1="364.10" x2="567.30" y2="365.60" stroke="#606060" stroke-width="0.8"/>
<text transform="translate(567.30,373.42) scale(1,1.12)" font-size="8.9" text-anchor="middle" fill="#1a1a1a" >17</text>
<line x1="597.20" y1="364.10" x2="597.20" y2="365.60" stroke="#606060" stroke-width="0.8"/>
<text transform="translate(597.20,373.42) scale(1,1.12)" font-size="8.9" text-anchor="middle" fill="#1a1a1a" >22</text>
<line x1="627.20" y1="364.10" x2="627.20" y2="365.60" stroke="#606060" stroke-width="0.8"/>
<text transform="translate(627.20,373.42) scale(1,1.12)" font-size="8.9" text-anchor="middle" fill="#1a1a1a" >27</text>
<path d="M470.60,226.60 L470.60,364.10 L634.90,364.10" fill="none" stroke="#606060" stroke-width="1.0"/>
<circle cx="530.4" cy="239.4" r="1.25" fill="#000"/>
<circle cx="552.7" cy="237.1" r="1.25" fill="#000"/>
<circle cx="548.3" cy="247.3" r="1.25" fill="#000"/>
<circle cx="536.2" cy="253.9" r="1.25" fill="#000"/>
<circle cx="500.4" cy="262.6" r="1.25" fill="#000"/>
<circle cx="528.9" cy="260.9" r="1.25" fill="#000"/>
<circle cx="537.8" cy="263.2" r="1.25" fill="#000"/>
<circle cx="533.3" cy="272.1" r="1.25" fill="#000"/>
<circle cx="543.6" cy="272.8" r="1.25" fill="#000"/>
<circle cx="516.9" cy="280.6" r="1.25" fill="#000"/>
<circle cx="519.9" cy="283.8" r="1.25" fill="#000"/>
<circle cx="526.0" cy="285.7" r="1.25" fill="#000"/>
<circle cx="530.4" cy="284.7" r="1.25" fill="#000"/>
<circle cx="536.2" cy="282.8" r="1.25" fill="#000"/>
<circle cx="538.1" cy="283.6" r="1.25" fill="#000"/>
<circle cx="543.9" cy="287.6" r="1.25" fill="#000"/>
<circle cx="549.8" cy="285.7" r="1.25" fill="#000"/>
<circle cx="552.7" cy="286.6" r="1.25" fill="#000"/>
<circle cx="559.0" cy="286.6" r="1.25" fill="#000"/>
<circle cx="492.8" cy="292.7" r="1.25" fill="#000"/>
<circle cx="498.7" cy="292.7" r="1.25" fill="#000"/>
<circle cx="503.4" cy="291.1" r="1.25" fill="#000"/>
<circle cx="510.7" cy="292.7" r="1.25" fill="#000"/>
<circle cx="533.3" cy="293.4" r="1.25" fill="#000"/>
<circle cx="542.2" cy="293.0" r="1.25" fill="#000"/>
<circle cx="543.9" cy="296.2" r="1.25" fill="#000"/>
<circle cx="547.6" cy="295.9" r="1.25" fill="#000"/>
<circle cx="546.4" cy="297.4" r="1.25" fill="#000"/>
<circle cx="524.2" cy="297.8" r="1.25" fill="#000"/>
<circle cx="530.4" cy="297.8" r="1.25" fill="#000"/>
<circle cx="572.4" cy="258.2" r="1.25" fill="#000"/>
<circle cx="569.2" cy="267.2" r="1.25" fill="#000"/>
<circle cx="591.8" cy="274.5" r="1.25" fill="#000"/>
<circle cx="563.1" cy="284.7" r="1.25" fill="#000"/>
<circle cx="573.6" cy="287.6" r="1.25" fill="#000"/>
<circle cx="578.2" cy="286.9" r="1.25" fill="#000"/>
<circle cx="587.2" cy="284.7" r="1.25" fill="#000"/>
<circle cx="595.0" cy="284.7" r="1.25" fill="#000"/>
<circle cx="600.9" cy="286.6" r="1.25" fill="#000"/>
<circle cx="593.3" cy="291.2" r="1.25" fill="#000"/>
<circle cx="595.0" cy="292.6" r="1.25" fill="#000"/>
<circle cx="579.7" cy="296.2" r="1.25" fill="#000"/>
<circle cx="590.4" cy="300.5" r="1.25" fill="#000"/>
<circle cx="499.0" cy="302.8" r="1.25" fill="#000"/>
<circle cx="503.4" cy="303.1" r="1.25" fill="#000"/>
<circle cx="515.2" cy="302.8" r="1.25" fill="#000"/>
<circle cx="530.4" cy="302.8" r="1.25" fill="#000"/>
<circle cx="545.4" cy="302.8" r="1.25" fill="#000"/>
<circle cx="491.4" cy="311.6" r="1.25" fill="#000"/>
<circle cx="512.3" cy="311.6" r="1.25" fill="#000"/>
<circle cx="521.3" cy="311.6" r="1.25" fill="#000"/>
<circle cx="536.2" cy="311.6" r="1.25" fill="#000"/>
<circle cx="488.5" cy="314.5" r="1.25" fill="#000"/>
<circle cx="552.7" cy="314.5" r="1.25" fill="#000"/>
<circle cx="559.3" cy="314.5" r="1.25" fill="#000"/>
<circle cx="531.8" cy="319.9" r="1.25" fill="#000"/>
<circle cx="491.4" cy="322.1" r="1.25" fill="#000"/>
<circle cx="484.1" cy="328.4" r="1.25" fill="#000"/>
<circle cx="492.8" cy="330.9" r="1.25" fill="#000"/>
<circle cx="551.2" cy="326.5" r="1.25" fill="#000"/>
<circle cx="540.7" cy="330.9" r="1.25" fill="#000"/>
<circle cx="542.5" cy="337.7" r="1.25" fill="#000"/>
<circle cx="491.4" cy="347.4" r="1.25" fill="#000"/>
<circle cx="598.0" cy="301.4" r="1.25" fill="#000"/>
<circle cx="603.5" cy="303.9" r="1.25" fill="#000"/>
<circle cx="590.4" cy="305.8" r="1.25" fill="#000"/>
<circle cx="581.2" cy="308.7" r="1.25" fill="#000"/>
<circle cx="581.2" cy="311.9" r="1.25" fill="#000"/>
<circle cx="598.0" cy="309.7" r="1.25" fill="#000"/>
<circle cx="560.1" cy="314.8" r="1.25" fill="#000"/>
<circle cx="569.2" cy="314.8" r="1.25" fill="#000"/>
<circle cx="564.8" cy="317.7" r="1.25" fill="#000"/>
<circle cx="564.8" cy="321.7" r="1.25" fill="#000"/>
<circle cx="578.2" cy="314.8" r="1.25" fill="#000"/>
<circle cx="588.9" cy="314.4" r="1.25" fill="#000"/>
<circle cx="582.8" cy="321.7" r="1.25" fill="#000"/>
<circle cx="578.2" cy="331.6" r="1.25" fill="#000"/>
<circle cx="593.3" cy="331.6" r="1.25" fill="#000"/>
<circle cx="594.7" cy="330.9" r="1.25" fill="#000"/>
<circle cx="590.4" cy="337.7" r="1.25" fill="#000"/>
<circle cx="591.8" cy="340.8" r="1.25" fill="#000"/>
<circle cx="605.3" cy="337.7" r="1.25" fill="#000"/>
<circle cx="611.1" cy="337.7" r="1.25" fill="#000"/>
<circle cx="594.7" cy="345.8" r="1.25" fill="#000"/>
<circle cx="566.3" cy="347.2" r="1.25" fill="#000"/>
<path d="M484.10,317.23 Q547.60,258.01 611.10,331.34" fill="none" stroke="#3f3fff" stroke-width="1.3"/>
<text x="562.00" y="238.80" font-size="8.65" fill="#1a1a1a">Linear: β=-0.163; <tspan font-style="italic">p</tspan>=0.163</text>
<text x="562.00" y="248.80" font-size="8.65" fill="#1a1a1a">Quadratic: β=-0.385; p&lt;0.0006*</text>
<text x="147.90" y="413.30" font-size="9.45" text-anchor="middle" fill="#1a1a1a" >Color Trick Meaning to Meaning (n=79)</text>
<text x="148.00" y="422.70" font-size="9.45" text-anchor="middle" fill="#1a1a1a" >processing speed</text>
<text transform="translate(47.48,498.70) rotate(-90)" font-size="8.4" text-anchor="middle" fill="#1a1a1a">Within-Person Standard Deviation</text>
<text transform="translate(147.80,593.90) scale(1,1.06)" font-size="8.5" text-anchor="middle" fill="#1a1a1a" >Mean Correct</text>
<line x1="62.65" y1="434.50" x2="64.15" y2="434.50" stroke="#606060" stroke-width="0.8"/>
<text transform="translate(61.75,437.76) scale(1,1.12)" font-size="8.2" text-anchor="end" fill="#1a1a1a" >5</text>
<line x1="62.65" y1="460.36" x2="64.15" y2="460.36" stroke="#606060" stroke-width="0.8"/>
<text transform="translate(61.75,463.62) scale(1,1.12)" font-size="8.2" text-anchor="end" fill="#1a1a1a" >4</text>
<line x1="62.65" y1="486.22" x2="64.15" y2="486.22" stroke="#606060" stroke-width="0.8"/>
<text transform="translate(61.75,489.48) scale(1,1.12)" font-size="8.2" text-anchor="end" fill="#1a1a1a" >3</text>
<line x1="62.65" y1="512.08" x2="64.15" y2="512.08" stroke="#606060" stroke-width="0.8"/>
<text transform="translate(61.75,515.34) scale(1,1.12)" font-size="8.2" text-anchor="end" fill="#1a1a1a" >2</text>
<line x1="62.65" y1="537.94" x2="64.15" y2="537.94" stroke="#606060" stroke-width="0.8"/>
<text transform="translate(61.75,541.20) scale(1,1.12)" font-size="8.2" text-anchor="end" fill="#1a1a1a" >1</text>
<line x1="62.65" y1="563.80" x2="64.15" y2="563.80" stroke="#606060" stroke-width="0.8"/>
<text transform="translate(61.75,567.06) scale(1,1.12)" font-size="8.2" text-anchor="end" fill="#1a1a1a" >0</text>
<line x1="71.40" y1="570.10" x2="71.40" y2="571.60" stroke="#606060" stroke-width="0.8"/>
<text transform="translate(71.40,579.32) scale(1,1.12)" font-size="8.2" text-anchor="middle" fill="#1a1a1a" >20</text>
<line x1="114.90" y1="570.10" x2="114.90" y2="571.60" stroke="#606060" stroke-width="0.8"/>
<text transform="translate(114.90,579.32) scale(1,1.12)" font-size="8.2" text-anchor="middle" fill="#1a1a1a" >22</text>
<line x1="158.50" y1="570.10" x2="158.50" y2="571.60" stroke="#606060" stroke-width="0.8"/>
<text transform="translate(158.50,579.32) scale(1,1.12)" font-size="8.2" text-anchor="middle" fill="#1a1a1a" >24</text>
<line x1="202.00" y1="570.10" x2="202.00" y2="571.60" stroke="#606060" stroke-width="0.8"/>
<text transform="translate(202.00,579.32) scale(1,1.12)" font-size="8.2" text-anchor="middle" fill="#1a1a1a" >26</text>
<path d="M64.15,427.70 L64.15,570.10 L231.50,570.10" fill="none" stroke="#606060" stroke-width="1.0"/>
<circle cx="88.0" cy="524.7" r="1.25" fill="#000"/>
<circle cx="180.6" cy="460.0" r="1.25" fill="#000"/>
<circle cx="169.4" cy="465.4" r="1.25" fill="#000"/>
<circle cx="158.8" cy="487.0" r="1.25" fill="#000"/>
<circle cx="158.8" cy="496.9" r="1.25" fill="#000"/>
<circle cx="191.2" cy="485.8" r="1.25" fill="#000"/>
<circle cx="174.8" cy="495.7" r="1.25" fill="#000"/>
<circle cx="164.0" cy="506.3" r="1.25" fill="#000"/>
<circle cx="191.2" cy="502.1" r="1.25" fill="#000"/>
<circle cx="136.9" cy="507.7" r="1.25" fill="#000"/>
<circle cx="136.9" cy="527.0" r="1.25" fill="#000"/>
<circle cx="174.8" cy="519.4" r="1.25" fill="#000"/>
<circle cx="185.8" cy="519.4" r="1.25" fill="#000"/>
<circle cx="196.6" cy="514.7" r="1.25" fill="#000"/>
<circle cx="202.0" cy="511.7" r="1.25" fill="#000"/>
<circle cx="207.7" cy="524.6" r="1.25" fill="#000"/>
<circle cx="202.0" cy="527.0" r="1.25" fill="#000"/>
<circle cx="191.2" cy="530.0" r="1.25" fill="#000"/>
<circle cx="202.0" cy="533.5" r="1.25" fill="#000"/>
<circle cx="196.6" cy="538.7" r="1.25" fill="#000"/>
<circle cx="207.7" cy="538.7" r="1.25" fill="#000"/>
<circle cx="213.1" cy="537.5" r="1.25" fill="#000"/>
<circle cx="213.1" cy="548.8" r="1.25" fill="#000"/>
<circle cx="218.7" cy="550.5" r="1.25" fill="#000"/>
<circle cx="224.1" cy="563.4" r="1.25" fill="#000"/>
<path d="M88.20,540.95 Q156.05,431.08 223.90,561.51" fill="none" stroke="#3f3fff" stroke-width="1.3"/>
<text x="69.10" y="557.90" font-size="8.65" fill="#1a1a1a">Linear: β=-1.354; <tspan font-style="italic">p</tspan>&lt;0.0001*</text>
<text x="69.10" y="566.80" font-size="8.65" fill="#1a1a1a">Quadratic: β=-0.887; <tspan font-style="italic">p</tspan>&lt;0.0001*</text>
<text x="351.60" y="413.70" font-size="9.45" text-anchor="middle" fill="#1a1a1a" >Color Trick Meaning to Color (n=78)</text>
<text x="350.60" y="422.90" font-size="9.45" text-anchor="middle" fill="#1a1a1a" >inhibition</text>
<text transform="translate(252.28,499.30) rotate(-90)" font-size="8.4" text-anchor="middle" fill="#1a1a1a">Within-Person Standard Deviation</text>
<text transform="translate(351.30,594.00) scale(1,1.06)" font-size="8.5" text-anchor="middle" fill="#1a1a1a" >Mean Correct</text>
<line x1="265.90" y1="435.10" x2="267.40" y2="435.10" stroke="#606060" stroke-width="0.8"/>
<text transform="translate(265.00,438.36) scale(1,1.12)" font-size="8.2" text-anchor="end" fill="#1a1a1a" >5</text>
<line x1="265.90" y1="460.94" x2="267.40" y2="460.94" stroke="#606060" stroke-width="0.8"/>
<text transform="translate(265.00,464.20) scale(1,1.12)" font-size="8.2" text-anchor="end" fill="#1a1a1a" >4</text>
<line x1="265.90" y1="486.78" x2="267.40" y2="486.78" stroke="#606060" stroke-width="0.8"/>
<text transform="translate(265.00,490.04) scale(1,1.12)" font-size="8.2" text-anchor="end" fill="#1a1a1a" >3</text>
<line x1="265.90" y1="512.62" x2="267.40" y2="512.62" stroke="#606060" stroke-width="0.8"/>
<text transform="translate(265.00,515.88) scale(1,1.12)" font-size="8.2" text-anchor="end" fill="#1a1a1a" >2</text>
<line x1="265.90" y1="538.46" x2="267.40" y2="538.46" stroke="#606060" stroke-width="0.8"/>
<text transform="translate(265.00,541.72) scale(1,1.12)" font-size="8.2" text-anchor="end" fill="#1a1a1a" >1</text>
<line x1="265.90" y1="564.30" x2="267.40" y2="564.30" stroke="#606060" stroke-width="0.8"/>
<text transform="translate(265.00,567.56) scale(1,1.12)" font-size="8.2" text-anchor="end" fill="#1a1a1a" >0</text>
<line x1="275.30" y1="570.50" x2="275.30" y2="572.00" stroke="#606060" stroke-width="0.8"/>
<g clip-path="url(#c8)">
<text transform="translate(275.30,579.72) scale(1,1.12)" font-size="8.2" text-anchor="middle" fill="#1a1a1a" >15.0</text>
</g>
<line x1="306.90" y1="570.50" x2="306.90" y2="572.00" stroke="#606060" stroke-width="0.8"/>
<g clip-path="url(#c8)">
<text transform="translate(306.90,579.72) scale(1,1.12)" font-size="8.2" text-anchor="middle" fill="#1a1a1a" >17.5</text>
</g>
<line x1="338.50" y1="570.50" x2="338.50" y2="572.00" stroke="#606060" stroke-width="0.8"/>
<g clip-path="url(#c8)">
<text transform="translate(338.50,579.72) scale(1,1.12)" font-size="8.2" text-anchor="middle" fill="#1a1a1a" >20.0</text>
</g>
<line x1="370.00" y1="570.50" x2="370.00" y2="572.00" stroke="#606060" stroke-width="0.8"/>
<g clip-path="url(#c8)">
<text transform="translate(370.00,579.72) scale(1,1.12)" font-size="8.2" text-anchor="middle" fill="#1a1a1a" >22.5</text>
</g>
<line x1="401.60" y1="570.50" x2="401.60" y2="572.00" stroke="#606060" stroke-width="0.8"/>
<g clip-path="url(#c8)">
<text transform="translate(401.60,579.72) scale(1,1.12)" font-size="8.2" text-anchor="middle" fill="#1a1a1a" >25.0</text>
</g>
<line x1="433.20" y1="570.50" x2="433.20" y2="572.00" stroke="#606060" stroke-width="0.8"/>
<g clip-path="url(#c8)">
<text transform="translate(433.20,579.72) scale(1,1.12)" font-size="8.2" text-anchor="middle" fill="#1a1a1a" >27.5</text>
</g>
<path d="M267.40,428.00 L267.40,570.50 L434.90,570.50" fill="none" stroke="#606060" stroke-width="1.0"/>
<circle cx="275.0" cy="482.1" r="1.25" fill="#000"/>
<circle cx="329.0" cy="519.9" r="1.25" fill="#000"/>
<circle cx="367.0" cy="453.6" r="1.25" fill="#000"/>
<circle cx="392.3" cy="471.0" r="1.25" fill="#000"/>
<circle cx="376.5" cy="476.9" r="1.25" fill="#000"/>
<circle cx="398.7" cy="489.9" r="1.25" fill="#000"/>
<circle cx="402.0" cy="494.0" r="1.25" fill="#000"/>
<circle cx="363.8" cy="500.6" r="1.25" fill="#000"/>
<circle cx="370.2" cy="502.5" r="1.25" fill="#000"/>
<circle cx="408.2" cy="502.5" r="1.25" fill="#000"/>
<circle cx="405.0" cy="506.9" r="1.25" fill="#000"/>
<circle cx="414.7" cy="512.3" r="1.25" fill="#000"/>
<circle cx="408.2" cy="514.5" r="1.25" fill="#000"/>
<circle cx="411.5" cy="515.2" r="1.25" fill="#000"/>
<circle cx="398.7" cy="515.2" r="1.25" fill="#000"/>
<circle cx="389.2" cy="516.6" r="1.25" fill="#000"/>
<circle cx="398.7" cy="519.6" r="1.25" fill="#000"/>
<circle cx="408.2" cy="519.6" r="1.25" fill="#000"/>
<circle cx="373.3" cy="525.1" r="1.25" fill="#000"/>
<circle cx="405.0" cy="525.1" r="1.25" fill="#000"/>
<circle cx="402.0" cy="527.4" r="1.25" fill="#000"/>
<circle cx="411.2" cy="525.1" r="1.25" fill="#000"/>
<circle cx="414.7" cy="527.4" r="1.25" fill="#000"/>
<circle cx="411.5" cy="531.8" r="1.25" fill="#000"/>
<circle cx="414.7" cy="534.3" r="1.25" fill="#000"/>
<circle cx="398.7" cy="539.4" r="1.25" fill="#000"/>
<circle cx="405.0" cy="539.4" r="1.25" fill="#000"/>
<circle cx="408.2" cy="538.4" r="1.25" fill="#000"/>
<circle cx="417.8" cy="539.4" r="1.25" fill="#000"/>
<circle cx="414.7" cy="543.1" r="1.25" fill="#000"/>
<circle cx="392.3" cy="551.4" r="1.25" fill="#000"/>
<circle cx="405.0" cy="551.4" r="1.25" fill="#000"/>
<circle cx="411.5" cy="551.4" r="1.25" fill="#000"/>
<circle cx="417.8" cy="551.4" r="1.25" fill="#000"/>
<circle cx="421.3" cy="548.9" r="1.25" fill="#000"/>
<circle cx="424.2" cy="551.1" r="1.25" fill="#000"/>
<circle cx="427.3" cy="564.2" r="1.25" fill="#000"/>
<path d="M275.30,500.40 Q351.30,432.89 427.30,555.61" fill="none" stroke="#3f3fff" stroke-width="1.3"/>
<text x="270.80" y="557.40" font-size="8.65" fill="#1a1a1a">Linear: β=-1.219; <tspan font-style="italic">p</tspan>&lt;0.0001*</text>
<text x="270.80" y="566.60" font-size="8.65" fill="#1a1a1a">Quadratic: β=-0.782; <tspan font-style="italic">p</tspan>&lt;0.0001*</text>
<text x="551.70" y="413.70" font-size="9.45" text-anchor="middle" fill="#1a1a1a" >Color Trick Yes-No Mechanic (n=76)</text>
<text x="551.40" y="422.60" font-size="9.45" text-anchor="middle" fill="#1a1a1a" >inhibition</text>
<text transform="translate(452.28,498.90) rotate(-90)" font-size="8.4" text-anchor="middle" fill="#1a1a1a">Within-Person Standard Deviation</text>
<text transform="translate(551.60,593.90) scale(1,1.06)" font-size="8.5" text-anchor="middle" fill="#1a1a1a" >Mean Correct</text>
<line x1="466.60" y1="434.60" x2="468.10" y2="434.60" stroke="#606060" stroke-width="0.8"/>
<text transform="translate(465.70,437.86) scale(1,1.12)" font-size="8.2" text-anchor="end" fill="#1a1a1a" >5</text>
<line x1="466.60" y1="460.42" x2="468.10" y2="460.42" stroke="#606060" stroke-width="0.8"/>
<text transform="translate(465.70,463.68) scale(1,1.12)" font-size="8.2" text-anchor="end" fill="#1a1a1a" >4</text>
<line x1="466.60" y1="486.24" x2="468.10" y2="486.24" stroke="#606060" stroke-width="0.8"/>
<text transform="translate(465.70,489.50) scale(1,1.12)" font-size="8.2" text-anchor="end" fill="#1a1a1a" >3</text>
<line x1="466.60" y1="512.06" x2="468.10" y2="512.06" stroke="#606060" stroke-width="0.8"/>
<text transform="translate(465.70,515.32) scale(1,1.12)" font-size="8.2" text-anchor="end" fill="#1a1a1a" >2</text>
<line x1="466.60" y1="537.88" x2="468.10" y2="537.88" stroke="#606060" stroke-width="0.8"/>
<text transform="translate(465.70,541.14) scale(1,1.12)" font-size="8.2" text-anchor="end" fill="#1a1a1a" >1</text>
<line x1="466.60" y1="563.70" x2="468.10" y2="563.70" stroke="#606060" stroke-width="0.8"/>
<text transform="translate(465.70,566.96) scale(1,1.12)" font-size="8.2" text-anchor="end" fill="#1a1a1a" >0</text>
<line x1="475.20" y1="570.00" x2="475.20" y2="571.50" stroke="#606060" stroke-width="0.8"/>
<text transform="translate(475.20,579.22) scale(1,1.12)" font-size="8.2" text-anchor="middle" fill="#1a1a1a" >19</text>
<line x1="513.30" y1="570.00" x2="513.30" y2="571.50" stroke="#606060" stroke-width="0.8"/>
<text transform="translate(513.30,579.22) scale(1,1.12)" font-size="8.2" text-anchor="middle" fill="#1a1a1a" >21</text>
<line x1="551.40" y1="570.00" x2="551.40" y2="571.50" stroke="#606060" stroke-width="0.8"/>
<text transform="translate(551.40,579.22) scale(1,1.12)" font-size="8.2" text-anchor="middle" fill="#1a1a1a" >23</text>
<line x1="589.50" y1="570.00" x2="589.50" y2="571.50" stroke="#606060" stroke-width="0.8"/>
<text transform="translate(589.50,579.22) scale(1,1.12)" font-size="8.2" text-anchor="middle" fill="#1a1a1a" >25</text>
<line x1="627.60" y1="570.00" x2="627.60" y2="571.50" stroke="#606060" stroke-width="0.8"/>
<text transform="translate(627.60,579.22) scale(1,1.12)" font-size="8.2" text-anchor="middle" fill="#1a1a1a" >27</text>
<path d="M468.10,428.00 L468.10,570.00 L635.20,570.00" fill="none" stroke="#606060" stroke-width="1.0"/>
<circle cx="485.1" cy="467.7" r="1.25" fill="#000"/>
<circle cx="527.9" cy="455.0" r="1.25" fill="#000"/>
<circle cx="537.4" cy="447.0" r="1.25" fill="#000"/>
<circle cx="542.2" cy="483.1" r="1.25" fill="#000"/>
<circle cx="556.4" cy="492.3" r="1.25" fill="#000"/>
<circle cx="518.4" cy="510.1" r="1.25" fill="#000"/>
<circle cx="532.6" cy="511.9" r="1.25" fill="#000"/>
<circle cx="580.1" cy="465.5" r="1.25" fill="#000"/>
<circle cx="575.3" cy="470.5" r="1.25" fill="#000"/>
<circle cx="565.8" cy="480.7" r="1.25" fill="#000"/>
<circle cx="599.1" cy="486.0" r="1.25" fill="#000"/>
<circle cx="589.6" cy="493.6" r="1.25" fill="#000"/>
<circle cx="585.0" cy="506.4" r="1.25" fill="#000"/>
<circle cx="589.6" cy="507.7" r="1.25" fill="#000"/>
<circle cx="575.3" cy="510.4" r="1.25" fill="#000"/>
<circle cx="580.1" cy="509.6" r="1.25" fill="#000"/>
<circle cx="580.1" cy="514.0" r="1.25" fill="#000"/>
<circle cx="608.6" cy="511.8" r="1.25" fill="#000"/>
<circle cx="603.8" cy="514.7" r="1.25" fill="#000"/>
<circle cx="580.1" cy="518.8" r="1.25" fill="#000"/>
<circle cx="594.3" cy="519.4" r="1.25" fill="#000"/>
<circle cx="599.1" cy="518.8" r="1.25" fill="#000"/>
<circle cx="585.0" cy="524.7" r="1.25" fill="#000"/>
<circle cx="589.6" cy="526.9" r="1.25" fill="#000"/>
<circle cx="603.8" cy="524.7" r="1.25" fill="#000"/>
<circle cx="608.6" cy="526.9" r="1.25" fill="#000"/>
<circle cx="613.4" cy="524.7" r="1.25" fill="#000"/>
<circle cx="570.7" cy="526.9" r="1.25" fill="#000"/>
<circle cx="585.0" cy="531.1" r="1.25" fill="#000"/>
<circle cx="594.3" cy="531.1" r="1.25" fill="#000"/>
<circle cx="570.7" cy="533.7" r="1.25" fill="#000"/>
<circle cx="608.6" cy="533.7" r="1.25" fill="#000"/>
<circle cx="599.1" cy="537.8" r="1.25" fill="#000"/>
<circle cx="603.8" cy="538.8" r="1.25" fill="#000"/>
<circle cx="613.4" cy="538.8" r="1.25" fill="#000"/>
<circle cx="618.1" cy="537.8" r="1.25" fill="#000"/>
<circle cx="608.6" cy="542.4" r="1.25" fill="#000"/>
<circle cx="594.3" cy="550.9" r="1.25" fill="#000"/>
<circle cx="599.1" cy="548.7" r="1.25" fill="#000"/>
<circle cx="603.8" cy="550.9" r="1.25" fill="#000"/>
<circle cx="613.4" cy="550.9" r="1.25" fill="#000"/>
<circle cx="618.4" cy="548.7" r="1.25" fill="#000"/>
<circle cx="622.9" cy="550.9" r="1.25" fill="#000"/>
<circle cx="608.6" cy="563.7" r="1.25" fill="#000"/>
<circle cx="627.6" cy="563.7" r="1.25" fill="#000"/>
<path d="M485.10,473.32 Q556.35,471.12 627.60,557.92" fill="none" stroke="#3f3fff" stroke-width="1.3"/>
<text x="472.40" y="557.40" font-size="8.65" fill="#1a1a1a">Linear: β=-1.043; <tspan font-style="italic">p</tspan>&lt;0.0001*</text>
<text x="472.40" y="566.60" font-size="8.65" fill="#1a1a1a">Quadratic: β=-0.429; <tspan font-style="italic">p</tspan>=0.0048</text>
</svg>
</body></html>
